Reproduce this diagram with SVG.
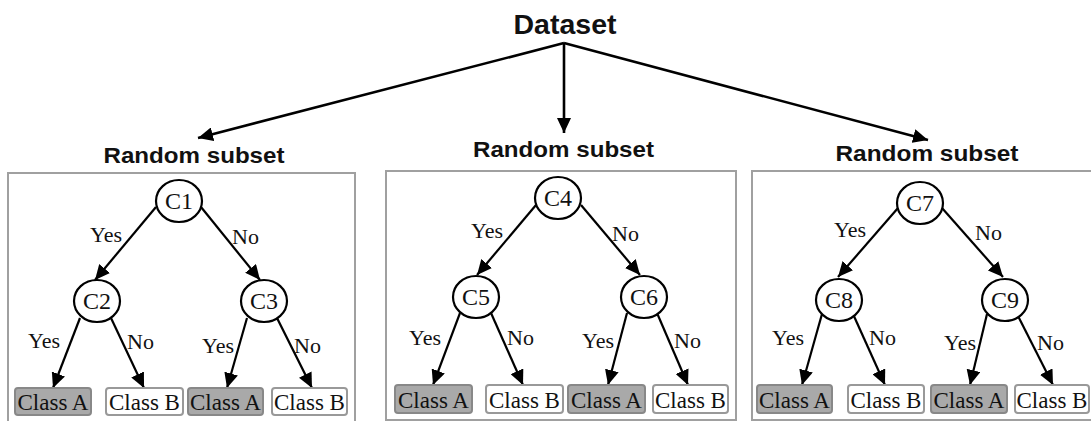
<svg xmlns="http://www.w3.org/2000/svg" width="1091" height="421" viewBox="0 0 1091 421">
<style>
.title{font-family:"Liberation Sans",Arial,sans-serif;font-weight:bold;fill:#111;text-anchor:middle}
.frame{fill:none;stroke:#a0a0a0;stroke-width:2}
.node ellipse{fill:#fff;stroke:#000;stroke-width:2.2}
.nt{font-family:"Liberation Serif","Times New Roman",serif;font-size:24px;fill:#111;text-anchor:middle}
.lt{font-family:"Liberation Serif","Times New Roman",serif;font-size:23px;fill:#111;text-anchor:middle}
.lbl{font-family:"Liberation Serif","Times New Roman",serif;font-size:22px;fill:#111}
.leafA rect{fill:#a9a9a9;stroke:#888;stroke-width:2}
.leafB rect{fill:#fff;stroke:#999;stroke-width:2}
.edge{stroke:#000;stroke-width:2.2;fill:none;marker-end:url(#ah)}
.top{stroke:#000;stroke-width:2.6;fill:none;marker-end:url(#ah2)}
</style>
<defs>
<marker id="ah" markerUnits="userSpaceOnUse" markerWidth="16" markerHeight="14" refX="15" refY="7" orient="auto"><path d="M0,0 L15,7 L0,14 z" fill="#000"/></marker>
<marker id="ah2" markerUnits="userSpaceOnUse" markerWidth="16" markerHeight="14" refX="15" refY="7" orient="auto"><path d="M0,0 L15,7 L0,14 z" fill="#000"/></marker>
</defs>
<rect width="1091" height="421" fill="#fff"/>

<g id="dataset"><text class="title" x="565" y="34" font-size="27" textLength="103" lengthAdjust="spacingAndGlyphs">Dataset</text></g>

<g id="subset1">
<text class="title" x="194" y="163" font-size="22" textLength="181" lengthAdjust="spacingAndGlyphs">Random subset</text>
<rect class="frame" x="8" y="173" width="347" height="251"/>
</g>
<g id="subset2">
<text class="title" x="563.5" y="157" font-size="22" textLength="181" lengthAdjust="spacingAndGlyphs">Random subset</text>
<rect class="frame" x="386" y="171" width="350" height="249"/>
</g>
<g id="subset3">
<text class="title" x="927" y="161" font-size="22" textLength="183" lengthAdjust="spacingAndGlyphs">Random subset</text>
<rect class="frame" x="752" y="171" width="345" height="249"/>
</g>

<g id="connectors">
<path class="top" d="M564,43 L198,138"/>
<path class="top" d="M564,43 L564,133"/>
<path class="top" d="M564,43 L928,140"/>

<path class="edge" d="M156,207 L95,280"/>
<path class="edge" d="M201,207 L260,280"/>
<path class="edge" d="M80,318 L53,388"/>
<path class="edge" d="M111,318 L144,388"/>
<path class="edge" d="M247,318 L227,388"/>
<path class="edge" d="M277,318 L312,388"/>

<path class="edge" d="M536,205 L477,275"/>
<path class="edge" d="M581,205 L640,275"/>
<path class="edge" d="M460,313 L433,385"/>
<path class="edge" d="M491,313 L523,385"/>
<path class="edge" d="M627,313 L608,385"/>
<path class="edge" d="M657,313 L688,385"/>

<path class="edge" d="M898,208 L838,277"/>
<path class="edge" d="M942,208 L1003,277"/>
<path class="edge" d="M822,314 L802,385"/>
<path class="edge" d="M853,314 L885,385"/>
<path class="edge" d="M987,314 L970,385"/>
<path class="edge" d="M1017,314 L1053,385"/>

<text class="lbl" x="90" y="242">Yes</text>
<text class="lbl" x="232" y="244">No</text>
<text class="lbl" x="28" y="348">Yes</text>
<text class="lbl" x="127" y="349">No</text>
<text class="lbl" x="202" y="353">Yes</text>
<text class="lbl" x="294" y="353">No</text>

<text class="lbl" x="471" y="238">Yes</text>
<text class="lbl" x="612" y="241">No</text>
<text class="lbl" x="409" y="345">Yes</text>
<text class="lbl" x="507" y="345">No</text>
<text class="lbl" x="582" y="348">Yes</text>
<text class="lbl" x="674" y="348">No</text>

<text class="lbl" x="834" y="237">Yes</text>
<text class="lbl" x="975" y="240">No</text>
<text class="lbl" x="772" y="345">Yes</text>
<text class="lbl" x="869" y="345">No</text>
<text class="lbl" x="944" y="350">Yes</text>
<text class="lbl" x="1037" y="350">No</text>
</g>

<g id="C1" class="node"><ellipse cx="179" cy="201" rx="23" ry="21"/><text class="nt" x="179" y="209">C1</text></g>
<g id="C2" class="node"><ellipse cx="97" cy="301" rx="23" ry="21"/><text class="nt" x="97" y="309">C2</text></g>
<g id="C3" class="node"><ellipse cx="264" cy="301" rx="23" ry="21"/><text class="nt" x="264" y="309">C3</text></g>
<g id="C4" class="node"><ellipse cx="558" cy="198" rx="23" ry="21"/><text class="nt" x="558" y="206">C4</text></g>
<g id="C5" class="node"><ellipse cx="476" cy="297" rx="23" ry="21"/><text class="nt" x="476" y="305">C5</text></g>
<g id="C6" class="node"><ellipse cx="644" cy="297" rx="23" ry="21"/><text class="nt" x="644" y="305">C6</text></g>
<g id="C7" class="node"><ellipse cx="920" cy="203" rx="23" ry="21"/><text class="nt" x="920" y="211">C7</text></g>
<g id="C8" class="node"><ellipse cx="839" cy="300" rx="23" ry="21"/><text class="nt" x="839" y="308">C8</text></g>
<g id="C9" class="node"><ellipse cx="1005" cy="300" rx="23" ry="21"/><text class="nt" x="1005" y="308">C9</text></g>

<g id="leaf1A" class="leafA"><rect x="15" y="388" width="76" height="27" rx="3"/><text class="lt" x="53" y="410">Class A</text></g>
<g id="leaf1B" class="leafB"><rect x="106" y="388" width="77" height="27" rx="3"/><text class="lt" x="144.5" y="410">Class B</text></g>
<g id="leaf1C" class="leafA"><rect x="188" y="388" width="75" height="27" rx="3"/><text class="lt" x="225.5" y="410">Class A</text></g>
<g id="leaf1D" class="leafB"><rect x="272" y="388" width="75" height="27" rx="3"/><text class="lt" x="309.5" y="410">Class B</text></g>

<g id="leaf2A" class="leafA"><rect x="395" y="385" width="77" height="28" rx="3"/><text class="lt" x="433.5" y="408">Class A</text></g>
<g id="leaf2B" class="leafB"><rect x="486" y="385" width="77" height="28" rx="3"/><text class="lt" x="524.5" y="408">Class B</text></g>
<g id="leaf2C" class="leafA"><rect x="568" y="385" width="77" height="28" rx="3"/><text class="lt" x="606.5" y="408">Class A</text></g>
<g id="leaf2D" class="leafB"><rect x="653" y="385" width="75" height="28" rx="3"/><text class="lt" x="690.5" y="408">Class B</text></g>

<g id="leaf3A" class="leafA"><rect x="757" y="385" width="75" height="28" rx="3"/><text class="lt" x="794.5" y="408">Class A</text></g>
<g id="leaf3B" class="leafB"><rect x="848" y="385" width="76" height="28" rx="3"/><text class="lt" x="886" y="408">Class B</text></g>
<g id="leaf3C" class="leafA"><rect x="931" y="385" width="76" height="28" rx="3"/><text class="lt" x="969" y="408">Class A</text></g>
<g id="leaf3D" class="leafB"><rect x="1015" y="385" width="74" height="28" rx="3"/><text class="lt" x="1052" y="408">Class B</text></g>
</svg>
